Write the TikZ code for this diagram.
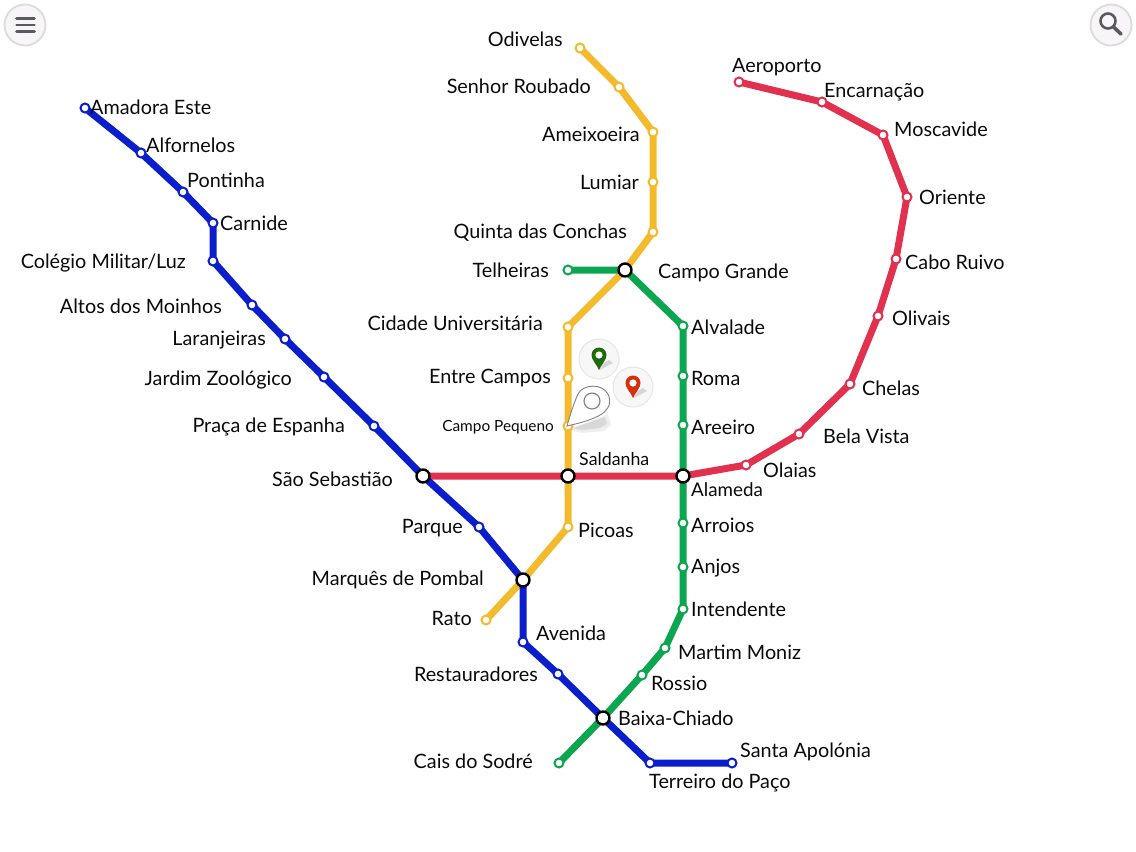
\documentclass[tikz,border=0pt]{standalone}
\usepackage{fontspec}
\setmainfont{Lato}
\usetikzlibrary{backgrounds,calc}
\definecolor{cblue}{HTML}{0A1ECC}
\definecolor{cyellow}{HTML}{F3BB2C}
\definecolor{cgreen}{HTML}{0DA650}
\definecolor{cred}{HTML}{E2304F}
\definecolor{ctxt}{HTML}{0A0A0A}
\definecolor{cbtn}{HTML}{F7F5F8}
\definecolor{cicon}{HTML}{5A5A5E}
\definecolor{cpinred}{HTML}{D6300F}
\definecolor{cpingreen}{HTML}{1F6B0A}
\tikzset{
  x=1pt,y=-1pt,
  stn/.style={circle,draw=#1,fill=white,line width=2pt,minimum size=9pt,inner sep=0pt},
  hub/.style={circle,draw=black,fill=white,line width=2.4pt,minimum size=13pt,inner sep=0pt},
  lbl/.style={font=\fontsize{19.8}{22}\selectfont,text=ctxt,inner sep=0pt},
  lbr/.style={lbl,anchor=east},
  lbw/.style={lbl,anchor=west},
  route/.style={draw=#1,line width=7pt,line join=round,line cap=round},
  btn/.style={circle,draw=black!14,fill=cbtn,line width=1.8pt,minimum size=41pt,inner sep=0pt},
  pinbtn/.style={circle,draw=black!10,fill=black!3,line width=1pt,minimum size=40pt,inner sep=0pt},
}
\newcommand{\pinat}[3]{%
  \fill[black!40,opacity=.35] (#1+1,#2+11) -- (#1+14,#2+4) -- (#1+10,#2+1) -- (#1+3,#2+5) -- cycle;
  \fill[#3] (#1,#2+11) .. controls (#1-2.5,#2+5) and (#1-7.5,#2+1) .. (#1-7.5,#2-4)
    arc[start angle=180,end angle=360,radius=7.5]
    .. controls (#1+7.5,#2+1) and (#1+2.5,#2+5) .. (#1,#2+11) -- cycle;
  \fill[white] (#1,#2-4) circle[radius=3.6];
}
\begin{document}
\begin{tikzpicture}
\useasboundingbox (0,0) rectangle (1136,852);
% blue
\node[stn=cblue] (ae) at (85,108) {};
\node[stn=cblue] (alf) at (141,153) {};
\node[stn=cblue] (pon) at (183,192) {};
\node[stn=cblue] (car) at (213,223) {};
\node[stn=cblue] (col) at (213,261) {};
\node[stn=cblue] (alt) at (252,305) {};
\node[stn=cblue] (lar) at (285,339) {};
\node[stn=cblue] (jar) at (324,377) {};
\node[stn=cblue] (pra) at (374,426) {};
\node[hub] (sao) at (423,476) {};
\node[stn=cblue] (par) at (479,527) {};
\node[hub] (mar) at (523,580) {};
\node[stn=cblue] (ave) at (523,642) {};
\node[stn=cblue] (res) at (558,674) {};
\node[hub] (bai) at (603,718) {};
\node[stn=cblue] (ter) at (650,763) {};
\node[stn=cblue] (san) at (732,763) {};
% yellow
\node[stn=cyellow] (odi) at (580,48) {};
\node[stn=cyellow] (sen) at (619,87) {};
\node[stn=cyellow] (ame) at (653,132) {};
\node[stn=cyellow] (lum) at (653,182) {};
\node[stn=cyellow] (qui) at (653,232) {};
\node[hub] (cgr) at (625,270) {};
\node[stn=cyellow] (cid) at (568,327) {};
\node[stn=cyellow] (ent) at (568,378) {};
\node[stn=cyellow] (cpe) at (568,426) {};
\node[hub] (sal) at (568,476) {};
\node[stn=cyellow] (pic) at (568,527) {};
\node[stn=cyellow] (rat) at (486,620) {};
% green
\node[stn=cgreen] (tel) at (568,270) {};
\node[stn=cgreen] (alv) at (683,326) {};
\node[stn=cgreen] (rom) at (683,376) {};
\node[stn=cgreen] (are) at (683,425) {};
\node[hub] (ala) at (683,476) {};
\node[stn=cgreen] (arr) at (683,523) {};
\node[stn=cgreen] (anj) at (683,567) {};
\node[stn=cgreen] (int) at (683,609) {};
\node[stn=cgreen] (mmo) at (665,648) {};
\node[stn=cgreen] (ros) at (642,675) {};
\node[stn=cgreen] (cai) at (559,763) {};
% red
\node[stn=cred] (aer) at (739,82) {};
\node[stn=cred] (enc) at (822,102) {};
\node[stn=cred] (mos) at (883,135) {};
\node[stn=cred] (ori) at (907,197) {};
\node[stn=cred] (cab) at (896,259) {};
\node[stn=cred] (oli) at (878,316) {};
\node[stn=cred] (che) at (850,384) {};
\node[stn=cred] (bel) at (799,434) {};
\node[stn=cred] (ola) at (746,465) {};
\begin{scope}[on background layer]
\draw[route=cred] (aer.center) -- (enc.center) -- (mos.center) -- (ori.center) -- (cab.center) -- (oli.center) -- (che.center) -- (bel.center) -- (ola.center) -- (ala.center) -- (sal.center) -- (sao.center);
\draw[route=cyellow] (odi.center) -- (sen.center) -- (ame.center) -- (lum.center) -- (qui.center) -- (cgr.center) -- (cid.center) -- (ent.center) -- (cpe.center) -- (sal.center) -- (pic.center) -- (mar.center) -- (rat.center);
\draw[route=cgreen] (tel.center) -- (cgr.center) -- (alv.center) -- (rom.center) -- (are.center) -- (ala.center) -- (arr.center) -- (anj.center) -- (int.center) -- (mmo.center) -- (ros.center) -- (bai.center) -- (cai.center);
\draw[route=cblue] (ae.center) -- (alf.center) -- (pon.center) -- (car.center) -- (col.center) -- (alt.center) -- (lar.center) -- (jar.center) -- (pra.center) -- (sao.center) -- (par.center) -- (mar.center) -- (ave.center) -- (res.center) -- (bai.center) -- (ter.center) -- (san.center);
\end{scope}
% blue labels
\node[lbw] (lae) at (90,107) {Amadora Este};
\node[lbw] (lalf) at (146,145) {Alfornelos};
\node[lbw] (lpon) at (187,180) {Pontinha};
\node[lbw] (lcar) at (220,223) {Carnide};
\node[lbr] (lcol) at (186,263) {Colégio Militar/Luz};
\node[lbr] (lalt) at (222,306) {Altos dos Moinhos};
\node[lbr] (llar) at (266,340) {Laranjeiras};
\node[lbr] (ljar) at (292,380) {Jardim Zoológico};
\node[lbr] (lpra) at (345,427) {Praça de Espanha};
\node[lbr] (lsao) at (393,479) {São Sebastião};
\node[lbr] (lpar) at (463,528) {Parque};
\node[lbr] (lmar) at (484,580) {Marquês de Pombal};
\node[lbw] (lave) at (536,633) {Avenida};
\node[lbr] (lres) at (538,674) {Restauradores};
\node[lbw] (lbai) at (618,718) {Baixa-Chiado};
\node[lbw] (lter) at (649,783) {Terreiro do Paço};
\node[lbw] (lsan) at (740,752) {Santa Apolónia};
% yellow labels
\node[lbr] (lodi) at (563,39) {Odivelas};
\node[lbr] (lsen) at (591,86) {Senhor Roubado};
\node[lbr] (lame) at (640,134) {Ameixoeira};
\node[lbr] (llum) at (639,182) {Lumiar};
\node[lbr] (lqui) at (627,233) {Quinta das Conchas};
\node[lbw] (lcgr) at (658,273) {Campo Grande};
\node[lbr] (lcid) at (543,323) {Cidade Universitária};
\node[lbr] (lent) at (551,378) {Entre Campos};
\node[lbl,anchor=east,font=\fontsize{15.4}{18}\selectfont] (lcpe) at (554,427) {Campo Pequeno};
\node[lbl,anchor=west,font=\fontsize{17.8}{20}\selectfont] (lsal) at (579,459) {Saldanha};
\node[lbw] (lpic) at (578,530) {Picoas};
\node[lbr] (lrat) at (472,618) {Rato};
% green labels
\node[lbr] (ltel) at (549,270) {Telheiras};
\node[lbw] (lalv) at (691,327) {Alvalade};
\node[lbw] (lrom) at (691,378) {Roma};
\node[lbw] (lare) at (691,427) {Areeiro};
\node[lbl,anchor=west,font=\fontsize{18.8}{22}\selectfont] (lala) at (691,490) {Alameda};
\node[lbw] (larr) at (691,525) {Arroios};
\node[lbw] (lanj) at (691,568) {Anjos};
\node[lbw] (lint) at (691,609) {Intendente};
\node[lbw] (lmmo) at (678,652) {Martim Moniz};
\node[lbw] (lros) at (651,683) {Rossio};
\node[lbr] (lcai) at (533,761) {Cais do Sodré};
% red labels
\node[lbw] (laer) at (732,67) {Aeroporto};
\node[lbw] (lenc) at (824,92) {Encarnação};
\node[lbw] (lmos) at (894,129) {Moscavide};
\node[lbw] (lori) at (919,197) {Oriente};
\node[lbw] (lcab) at (905,262) {Cabo Ruivo};
\node[lbw] (loli) at (892,318) {Olivais};
\node[lbw] (lche) at (862,388) {Chelas};
\node[lbw] (lbel) at (823,436) {Bela Vista};
\node[lbw] (lola) at (763,470) {Olaias};
% map pins
\node[pinbtn] (pg) at (599,359) {};
\node[pinbtn] (pr) at (633,387) {};
\pinat{599}{359}{cpingreen}
\pinat{633}{387}{cpinred}
\fill[black!30,opacity=.22] (570,430) -- (608,414) -- (611,425) -- (604,431) -- (582,433) -- cycle;
\fill[black!35,opacity=.3] (572,428) -- (605,417) -- (607,424) -- (600,428) -- (582,430) -- cycle;
\draw[black!50,fill=white,line width=.9pt] (567,426) .. controls (571,412) and (574,403) .. (578,394)
  .. controls (583,384) and (602,383) .. (608,394) .. controls (612,403) and (609,408) .. (602,414) .. controls (592,420) and (580,423) .. (567,426) -- cycle;
\node[circle,draw=black!50,fill=white,line width=1.1pt,minimum size=16pt,inner sep=0pt] (pw) at (592,401) {};
% buttons
\node[btn] (menu) at (25,25) {};
\foreach \y in {18.5,25,31.5}{\draw[cicon,line width=2.6pt,line cap=round] (16.5,\y) -- (34.5,\y);}
\node[btn] (search) at (1111,25) {};
\draw[cicon,line width=2.6pt] (1108,21) circle[radius=7.5];
\draw[cicon,line width=3.6pt,line cap=round] (1113.5,27) -- (1121,34);
\end{tikzpicture}
\end{document}
